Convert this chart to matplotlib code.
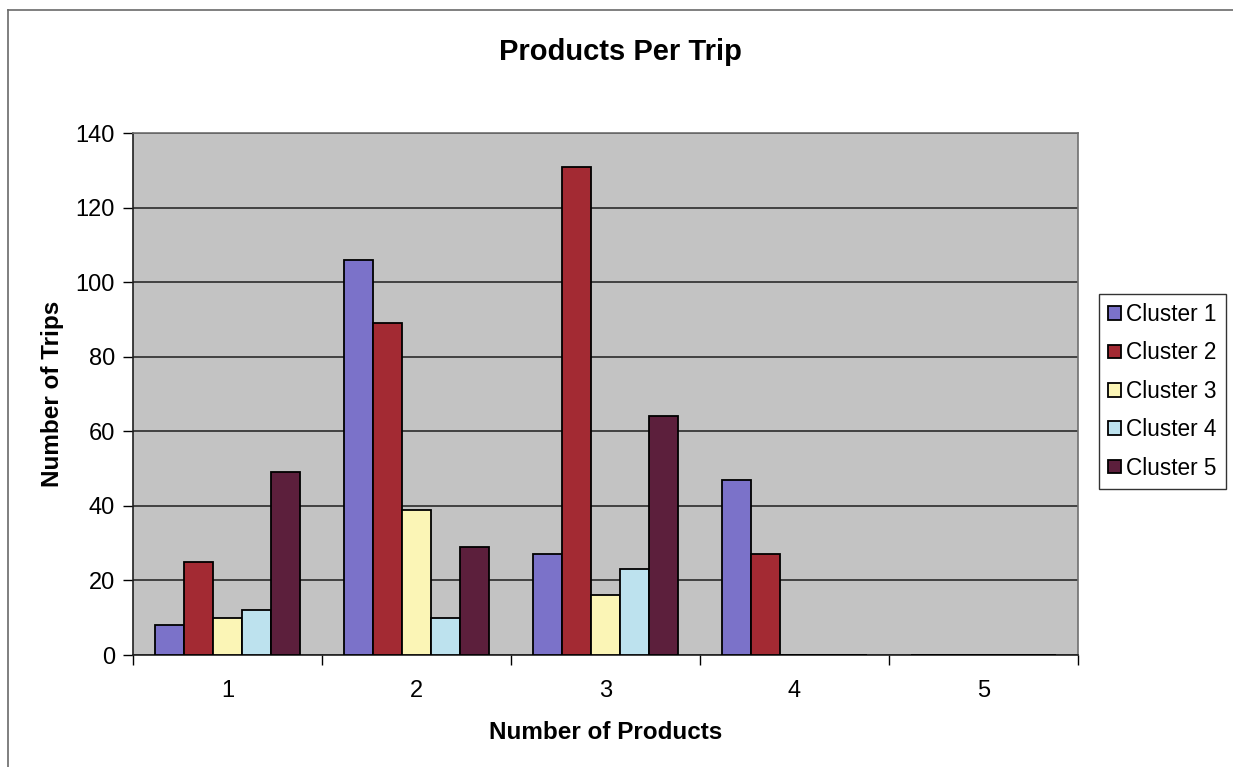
import matplotlib.pyplot as plt
import matplotlib as mpl
from matplotlib.lines import Line2D
import numpy as np

mpl.use('Agg')

# products per trip, by cluster
products = ['1', '2', '3', '4', '5']
clusters = ['Cluster 1', 'Cluster 2', 'Cluster 3', 'Cluster 4', 'Cluster 5']
cluster_1 = [8, 106, 27, 47, 0]
cluster_2 = [25, 89, 131, 27, 0]
cluster_3 = [10, 39, 16, 0, 0]
cluster_4 = [12, 10, 23, 0, 0]
cluster_5 = [49, 29, 64, 0, 0]
series = [cluster_1, cluster_2, cluster_3, cluster_4, cluster_5]
colors = ['#7b72c9', '#a32a33', '#fbf5b6', '#bde2ee', '#5c1f3c']

plt.rcParams['font.family'] = ['Liberation Sans', 'DejaVu Sans']

fig = plt.figure(figsize=(12.33, 7.67), dpi=100)
ax = fig.add_axes([133 / 1233, 1 - 655 / 767, 945 / 1233, 522 / 767])
ax.set_facecolor('#c3c3c3')

x = np.arange(1, len(products) + 1)
w = 1 / 6.5
for i, (vals, c) in enumerate(zip(series, colors)):
    ax.bar(x + (i - 2) * w, vals, width=w, color=c, edgecolor='black',
           linewidth=1.3, label=clusters[i], zorder=3)

ax.set_xlim(0.5, 5.5)
ax.set_ylim(0, 140)
ax.set_yticks(range(0, 141, 20))
ax.yaxis.grid(True, color='#2b2b2b', linewidth=1.2, zorder=1)

# category ticks sit on the boundaries, labels in the middle
ax.set_xticks(np.arange(0.5, 5.6, 1.0))
ax.set_xticklabels([])
ax.set_xticks(x, minor=True)
ax.set_xticklabels(products, minor=True)
ax.tick_params(axis='x', which='minor', length=0, pad=18, labelsize=17)
ax.tick_params(axis='x', which='major', length=7, width=1, direction='out')
ax.tick_params(axis='y', length=7, width=1, direction='out', pad=6, labelsize=17)

for s in ['left', 'bottom']:
    ax.spines[s].set_color('#202020')
    ax.spines[s].set_linewidth(1.2)
for s in ['top', 'right']:
    ax.spines[s].set_color('#707070')
    ax.spines[s].set_linewidth(1.2)

ax.set_xlabel('Number of Products', fontsize=17.5, fontweight='bold', labelpad=14)
ax.set_ylabel('Number of Trips', fontsize=17.5, fontweight='bold', labelpad=8)
fig.text(620 / 1233, 1 - 52 / 767, 'Products Per Trip', fontsize=21,
         fontweight='bold', ha='center', va='center')

leg = ax.legend(loc='upper left', bbox_to_anchor=(1099 / 1233, 1 - 294 / 767),
                bbox_transform=fig.transFigure, fontsize=16.3, frameon=True,
                fancybox=False, edgecolor='black', handlelength=0.55,
                handleheight=0.55, handletextpad=0.25, labelspacing=0.68,
                borderpad=0.4, borderaxespad=0)
leg.get_frame().set_linewidth(1.0)

# chart area border
fig.add_artist(Line2D([8 / 1233, 8 / 1233], [0, 1 - 10 / 767],
                      transform=fig.transFigure, color='#6a6a6a', linewidth=1.2))
fig.add_artist(Line2D([8 / 1233, 1], [1 - 10 / 767, 1 - 10 / 767],
                      transform=fig.transFigure, color='#6a6a6a', linewidth=1.2))

fig.savefig('out.png', dpi=100)
